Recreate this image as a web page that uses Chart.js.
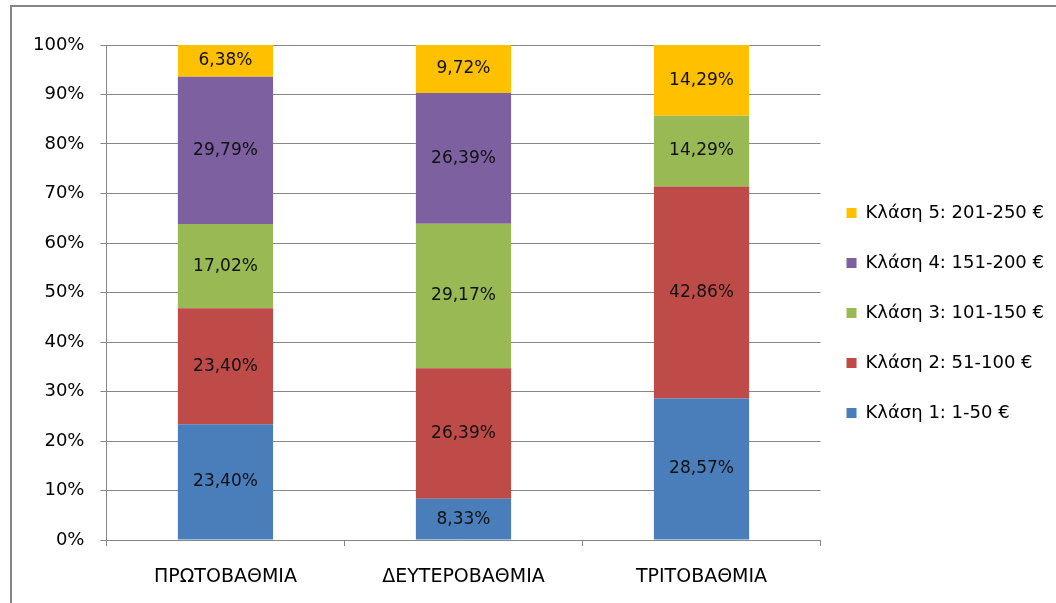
<!DOCTYPE html>
<html>
<head>
<meta charset="utf-8">
<script src="https://cdn.jsdelivr.net/npm/chart.js@4"></script>
<style>
  html, body { margin: 0; padding: 0; background: #fff; }
  #wrap { width: 1056px; height: 603px; position: relative; }
</style>
</head>
<body>
<div id="wrap"><canvas id="chart"></canvas></div>
<script>
const categories = ['ΠΡΩΤΟΒΑΘΜΙΑ', 'ΔΕΥΤΕΡΟΒΑΘΜΙΑ', 'ΤΡΙΤΟΒΑΘΜΙΑ']
const seriesNames = ['Κλάση 1: 1-50 €', 'Κλάση 2: 51-100 €', 'Κλάση 3: 101-150 €', 'Κλάση 4: 151-200 €', 'Κλάση 5: 201-250 €']
const class1 = [23.40, 8.33, 28.57]
const class2 = [23.40, 26.39, 42.86]
const class3 = [17.02, 29.17, 14.29]
const class4 = [29.79, 26.39, 0]
const class5 = [6.38, 9.72, 14.29]
const colors = ['#4a7ebb', '#be4b48', '#98b954', '#7d60a0', '#ffc000']

const font = 'DejaVu Sans'

// outer frame (only top/left visible in the original crop)
const framePlugin = {
  id: 'frame',
  beforeDraw(chart) {
    const ctx = chart.ctx
    ctx.save()
    ctx.strokeStyle = '#858585'
    ctx.lineWidth = 2
    ctx.beginPath()
    ctx.moveTo(11, 603)
    ctx.lineTo(11, 6)
    ctx.lineTo(1056, 6)
    ctx.stroke()
    ctx.restore()
  },
  // nudge the legend block: a bit left and centred higher
  afterLayout(chart) {
    const lg = chart.legend
    if (!lg) return
    lg.left -= 6
    lg.right -= 6
    lg.bottom -= 22
  }
}

// value labels in the middle of each segment
const labelPlugin = {
  id: 'segLabels',
  afterDatasetsDraw(chart) {
    const ctx = chart.ctx
    ctx.save()
    ctx.font = '17px "' + font + '"'
    ctx.fillStyle = '#111'
    ctx.textAlign = 'center'
    ctx.textBaseline = 'middle'
    chart.data.datasets.forEach((ds, i) => {
      const meta = chart.getDatasetMeta(i)
      meta.data.forEach((bar, j) => {
        const v = ds.data[j]
        if (!v) return
        ctx.fillText(v.toFixed(2).replace('.', ',') + '%', bar.x, (bar.y + bar.base) / 2)
      })
    })
    ctx.restore()
  }
}

const allSeries = [class1, class2, class3, class4, class5]

new Chart(document.getElementById('chart'), {
  type: 'bar',
  data: {
    labels: categories,
    datasets: allSeries.map((d, i) => ({
      label: seriesNames[i],
      data: d,
      backgroundColor: colors[i],
      borderWidth: 0,
      categoryPercentage: 1,
      barPercentage: 0.4
    }))
  },
  options: {
    responsive: true,
    maintainAspectRatio: false,
    animation: false,
    layout: { padding: { top: 45, left: 17, bottom: 0, right: -4 } },
    plugins: {
      legend: {
        position: 'right',
        reverse: true,
        labels: {
          boxWidth: 10,
          boxHeight: 10,
          padding: 32,
          color: '#000',
          font: { family: font, size: 18 }
        }
      },
      tooltip: { enabled: false }
    },
    scales: {
      x: {
        stacked: true,
        afterFit: s => { s.height = 63 },
        grid: { drawOnChartArea: false, drawTicks: true, tickLength: 6, color: '#868686', offset: true },
        border: { color: '#868686' },
        ticks: { color: '#000', padding: 20, font: { family: font, size: 19 } }
      },
      y: {
        stacked: true,
        min: 0,
        max: 100,
        grid: { color: '#868686', tickLength: 6 },
        border: { color: '#868686' },
        ticks: {
          stepSize: 10,
          color: '#000',
          padding: 16,
          font: { family: font, size: 18 },
          callback: v => v + '%'
        }
      }
    }
  },
  plugins: [framePlugin, labelPlugin]
})
</script>
</body>
</html>
